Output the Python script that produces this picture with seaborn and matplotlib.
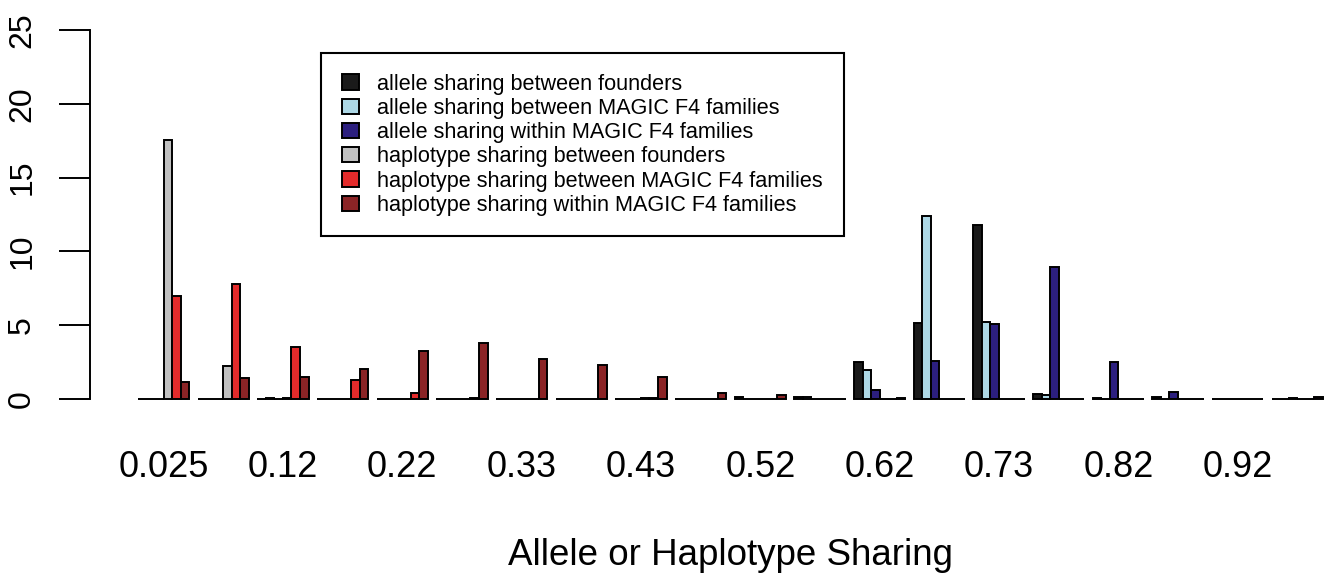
import numpy as np
import pandas as pd
import matplotlib
matplotlib.use("Agg")
import matplotlib.pyplot as plt
import matplotlib.patches as mpatches
import seaborn as sns

# bins of sharing (only every other label is printed)
bins = ["0.025", "0.075", "0.12", "0.17", "0.22", "0.28", "0.33", "0.38", "0.43", "0.47",
        "0.52", "0.57", "0.62", "0.68", "0.73", "0.77", "0.82", "0.88", "0.92", "0.97"]

series = ["allele sharing between founders",
          "allele sharing between MAGIC F4 families",
          "allele sharing within MAGIC F4 families",
          "haplotype sharing between founders",
          "haplotype sharing between MAGIC F4 families",
          "haplotype sharing within MAGIC F4 families"]

allele_founders = [0, 0, 0, 0, 0, 0, 0, 0, 0, 0, 0.15, 0.15, 2.53, 5.13, 11.8, 0.34, 0.05, 0.15, 0, 0.03]
allele_between = [0, 0, 0.05, 0, 0, 0, 0, 0, 0, 0, 0, 0.12, 1.96, 12.4, 5.24, 0.25, 0.03, 0, 0, 0.03]
allele_within = [0, 0, 0, 0, 0, 0, 0, 0, 0, 0, 0, 0, 0.61, 2.6, 5.06, 8.92, 2.48, 0.45, 0, 0.08]
hap_founders = [17.55, 2.26, 0.1, 0, 0, 0, 0, 0, 0.1, 0, 0, 0, 0, 0, 0, 0, 0, 0, 0, 0]
hap_between = [6.98, 7.79, 3.54, 1.29, 0.38, 0.1, 0, 0, 0.05, 0, 0, 0, 0, 0, 0, 0, 0, 0, 0, 0]
hap_within = [1.17, 1.40, 1.47, 2.01, 3.25, 3.77, 2.71, 2.32, 1.47, 0.43, 0.25, 0, 0.1, 0, 0, 0, 0, 0, 0, 0.12]

colors = ["#1a1a1a", "#add8e6", "#2c1f7f", "#c0c0c0", "#e32b2b", "#8b2426"]

values = [allele_founders, allele_between, allele_within, hap_founders, hap_between, hap_within]
rows = []
for name, vals in zip(series, values):
    for b, v in zip(bins, vals):
        rows.append({"bin": b, "series": name, "value": v})
df = pd.DataFrame(rows)

sns.set_style("ticks")
plt.rcParams["font.family"] = ["Liberation Sans", "DejaVu Sans"]
plt.rcParams["text.color"] = "black"
plt.rcParams["axes.labelcolor"] = "black"
plt.rcParams["xtick.color"] = "black"
plt.rcParams["ytick.color"] = "black"

W, H = 1326, 574
fig = plt.figure(figsize=(W / 100, H / 100), dpi=100)
ax = fig.add_axes([90 / W, (H - 399) / H, (W - 90) / W, 369 / H])

sns.barplot(data=df, x="bin", y="value", hue="series", order=bins, hue_order=series,
            palette=colors, saturation=1, width=6 / 7, edgecolor="black",
            linewidth=1.4, legend=False, ax=ax)

for p in ax.patches:
    p.set_clip_on(False)

ax.set_xlim(-1.2335, 19.48)
ax.set_ylim(0, 25)
ax.set_yticks([0, 5, 10, 15, 20, 25])
ax.set_yticklabels(["0", "5", "10", "15", "20", "25"], rotation=90, va="center")
ax.tick_params(axis="y", left=True, length=22, width=1.4, pad=16, labelsize=23,
               colors="black", direction="out")
ax.set_xticks(range(len(bins)))
ax.set_xticklabels([b if i % 2 == 0 else "" for i, b in enumerate(bins)])
ax.tick_params(axis="x", bottom=False, length=0, pad=37, labelsize=26, colors="black")

sns.despine(ax=ax, bottom=True)
ax.spines["left"].set_linewidth(1.4)
ax.spines["left"].set_color("black")

ax.set_ylabel("")
ax.set_xlabel("Allele or Haplotype Sharing", fontsize=26.5, color="black")
ax.xaxis.set_label_coords((730 - 90) / (W - 90), (399 - 538) / 369)

handles = [mpatches.Patch(facecolor=c, edgecolor="black", linewidth=1.4) for c in colors]
leg = ax.legend(handles, series, loc="upper left", bbox_to_anchor=(321 / W, 1 - 53 / H),
                bbox_transform=fig.transFigure, borderaxespad=0, fontsize=15.6,
                frameon=True, fancybox=False, shadow=False, framealpha=1,
                edgecolor="black", handlelength=0.8, handleheight=0.7,
                handletextpad=0.85, labelspacing=0.15, borderpad=0.95)
leg.get_frame().set_linewidth(1.5)
for t in leg.get_texts():
    t.set_color("black")

fig.savefig("out.png", dpi=100)
